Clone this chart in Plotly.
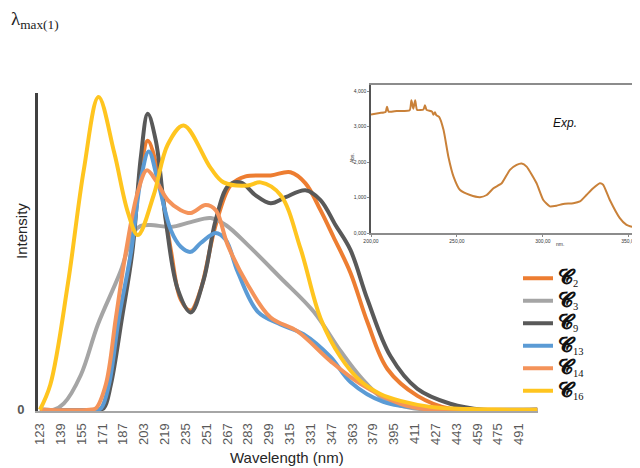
import plotly.graph_objects as go

# ---- main chart data (wavelength nm, normalised intensity) ----
tick_wl = list(range(123, 492, 16))

wl_c2 = [123, 165, 170, 176.5, 185, 193, 200.5, 205.8, 214.3, 223.5, 231.2, 238.8, 246.5, 258, 269.5, 281, 300.2, 315.5, 327, 338.5, 348.5, 361.5, 374.6, 389.9, 413, 438.2, 469, 505]
int_c2 = [0, 0, 0.005, 0.08, 0.29, 0.5, 0.76, 0.852, 0.742, 0.506, 0.349, 0.314, 0.381, 0.585, 0.711, 0.739, 0.742, 0.752, 0.717, 0.632, 0.547, 0.434, 0.277, 0.129, 0.044, 0.003, 0, 0]

wl_c3 = [123, 133.7, 141.4, 154.4, 167.5, 185.1, 195.1, 200.5, 208.1, 223.5, 238.8, 254.2, 265.7, 282.6, 307.8, 333.2, 353.9, 369.2, 386.8, 407.6, 430.6, 505]
int_c3 = [0, 0, 0.02, 0.11, 0.27, 0.44, 0.563, 0.582, 0.585, 0.579, 0.594, 0.607, 0.585, 0.522, 0.418, 0.311, 0.186, 0.104, 0.035, 0.006, 0, 0]

wl_c9 = [123, 166, 172, 177.5, 186, 194, 200.5, 205.8, 212, 219.6, 228.9, 238.8, 248.8, 258, 268, 277.2, 288.7, 300.2, 311.7, 327, 338.5, 350, 361.5, 374.6, 392.2, 413, 438.2, 463.5, 505]
int_c9 = [0, 0, 0.005, 0.08, 0.29, 0.5, 0.8, 0.937, 0.852, 0.601, 0.381, 0.308, 0.412, 0.601, 0.711, 0.72, 0.679, 0.654, 0.673, 0.695, 0.664, 0.585, 0.506, 0.349, 0.170, 0.066, 0.019, 0, 0]

wl_c13 = [123, 165, 170, 176, 183.6, 193, 200.5, 206.6, 214.3, 223.5, 231.2, 238.8, 246.5, 258, 265.7, 274.9, 290.2, 307.8, 325.5, 346.2, 361.5, 386.8, 422.9, 446, 505]
int_c13 = [0, 0, 0.005, 0.08, 0.29, 0.5, 0.73, 0.818, 0.711, 0.569, 0.516, 0.5, 0.528, 0.56, 0.538, 0.437, 0.311, 0.27, 0.239, 0.167, 0.088, 0.025, 0.003, 0, 0]

wl_c14 = [123, 161, 166, 173.6, 181.3, 189, 198.2, 205.1, 212, 221.2, 231.2, 238.8, 250.3, 258, 267.2, 282.6, 300.2, 320.9, 346.2, 369.2, 399.9, 422.9, 505]
int_c14 = [0, 0, 0.005, 0.08, 0.29, 0.5, 0.69, 0.758, 0.726, 0.664, 0.632, 0.623, 0.648, 0.632, 0.522, 0.396, 0.292, 0.248, 0.154, 0.082, 0.019, 0, 0]

wl_c16 = [123, 131, 144.5, 156.7, 168, 180, 190.5, 198.2, 210.4, 221.2, 233.4, 254.2, 264.1, 282.6, 292.5, 307.8, 323.2, 338.5, 353.9, 369.2, 384.5, 399.9, 422.9, 453.6, 505]
int_c16 = [0, 0.08, 0.40, 0.76, 0.99, 0.815, 0.626, 0.553, 0.68, 0.84, 0.90, 0.765, 0.72, 0.71, 0.72, 0.68, 0.51, 0.29, 0.167, 0.091, 0.05, 0.028, 0.009, 0.002, 0]

series_names = ["2", "3", "9", "13", "14", "16"]
series_colors = ["#ED7D31", "#A5A5A5", "#595959", "#5B9BD5", "#F4935A", "#FFC51F"]

# ---- inset: experimental spectrum ----
exp_wl = [200, 205, 208.5, 209.3, 210.2, 215, 222.5, 223.5, 224.6, 225.7, 226.8, 230.5, 231.4, 232.3, 235.5, 236.3, 237.2, 238, 239.6, 242.2, 245, 248, 251.8, 257.6, 263.4, 267.3, 271.2, 276, 280.8, 284.7, 287.6, 290.5, 296.3, 300.2, 304, 307.9, 311.8, 317.6, 321.5, 325.3, 329.2, 333.1, 335, 338.9, 344.7, 348.6, 354.4, 355]
exp_abs = [3.34, 3.38, 3.41, 3.56, 3.42, 3.44, 3.46, 3.74, 3.50, 3.74, 3.47, 3.48, 3.60, 3.47, 3.42, 3.33, 3.40, 3.32, 3.27, 2.90, 2.15, 1.59, 1.21, 1.07, 1.01, 1.07, 1.26, 1.40, 1.78, 1.92, 1.96, 1.87, 1.40, 0.93, 0.75, 0.77, 0.82, 0.84, 0.89, 1.07, 1.26, 1.40, 1.36, 0.93, 0.42, 0.23, 0.14, 0.13]

W, H = 640, 468
OFF = 8  # page body margin offset


def px(x):
    return (x - OFF) / W


def py(y):
    return (H - (y - OFF)) / H


main_l, main_r, main_t, main_b = 38, 538, 93, 411
ins_l, ins_r, ins_t, ins_b = 371, 637, 85, 233

fig = go.Figure()
all_wl = [wl_c2, wl_c3, wl_c9, wl_c13, wl_c14, wl_c16]
all_int = [int_c2, int_c3, int_c9, int_c13, int_c14, int_c16]
for name, col, xs, ys in zip(series_names, series_colors, all_wl, all_int):
    fig.add_trace(go.Scatter(
        x=xs, y=ys, mode="lines",
        name='<span style="font-size:21px"><b>𝓒</b></span><sub>' + name + "</sub>",
        line=dict(color=col, width=4, shape="spline", smoothing=1.0),
        xaxis="x", yaxis="y"))

fig.add_trace(go.Scatter(
    x=exp_wl, y=exp_abs, mode="lines", showlegend=False,
    line=dict(color="#C98139", width=2, shape="spline", smoothing=0.5),
    xaxis="x2", yaxis="y2"))


def label(text, x, y, size, family="Liberation Sans, Arial", color="#262626", angle=0, xanchor="center"):
    return dict(text=text, x=px(x), y=py(y), xref="paper", yref="paper",
                xanchor=xanchor, yanchor="middle", textangle=angle, showarrow=False,
                font=dict(family=family, size=size, color=color))


fig.update_layout(
    width=W, height=H, autosize=False,
    margin=dict(l=0, r=0, t=0, b=0, pad=0),
    paper_bgcolor="white", plot_bgcolor="rgba(0,0,0,0)",
    separators=",.",
    font=dict(family="Liberation Sans, Arial", color="#404040"),
    xaxis=dict(
        domain=[px(main_l), px(main_r)],
        range=[121.5, 505.6], automargin=False,
        tickvals=tick_wl, ticktext=[str(v) for v in tick_wl],
        tickangle=-90, tickfont=dict(size=13, color="#595959"),
        showgrid=False, zeroline=False,
        showline=True, linecolor="#A6A6A6", linewidth=2,
        ticks="outside", ticklen=5, tickcolor="rgba(0,0,0,0)", anchor="y"),
    yaxis=dict(
        domain=[py(main_b), py(main_t)],
        range=[-0.004, 1.003], automargin=False,
        tickvals=[0], ticktext=["<b>0</b>"],
        tickfont=dict(size=13, color="#595959"),
        showgrid=False, zeroline=False,
        showline=True, linecolor="#404040", linewidth=3,
        ticks="outside", ticklen=8, tickcolor="rgba(0,0,0,0)", anchor="x"),
    xaxis2=dict(
        domain=[px(ins_l), px(ins_r)],
        range=[200, 354.7], automargin=False,
        tickvals=[200, 250, 300, 350], tickformat=".2f",
        tickfont=dict(size=5, color="#333333"),
        ticks="outside", ticklen=2, tickcolor="#888888",
        showgrid=False, zeroline=False,
        showline=True, linecolor="#8C8C8C", linewidth=1.5, mirror=True,
        anchor="y2"),
    yaxis2=dict(
        domain=[py(ins_b), py(ins_t)],
        range=[0, 4.17], automargin=False,
        tickvals=[0, 1, 2, 3, 4], tickformat=".3f",
        tickfont=dict(size=5, color="#333333"),
        ticks="outside", ticklen=2, tickcolor="#888888",
        showgrid=False, zeroline=False,
        showline=True, linecolor="#555555", linewidth=1.5,
        anchor="x2"),
    legend=dict(
        x=px(518), y=py(262), xanchor="left", yanchor="top",
        font=dict(family="Liberation Serif, DejaVu Serif", size=15, color="#111111"),
        bgcolor="rgba(0,0,0,0)", tracegroupgap=0, itemwidth=30),
    annotations=[
        label("λ<sub>max(1)</sub>", 9, 20, 19, family="Liberation Serif", color="#222222", xanchor="left"),
        label("Intensity", 21, 231, 15, angle=-90),
        label("Wavelength (nm)", 287, 457, 15),
        label("<i>Exp.</i>", 565, 123, 12, color="#111111"),
        label("Abs.", 352, 158, 5, color="#333333", angle=-90),
        label("nm.", 560, 244, 5, color="#333333"),
    ],
)

fig.write_html("out.html")
